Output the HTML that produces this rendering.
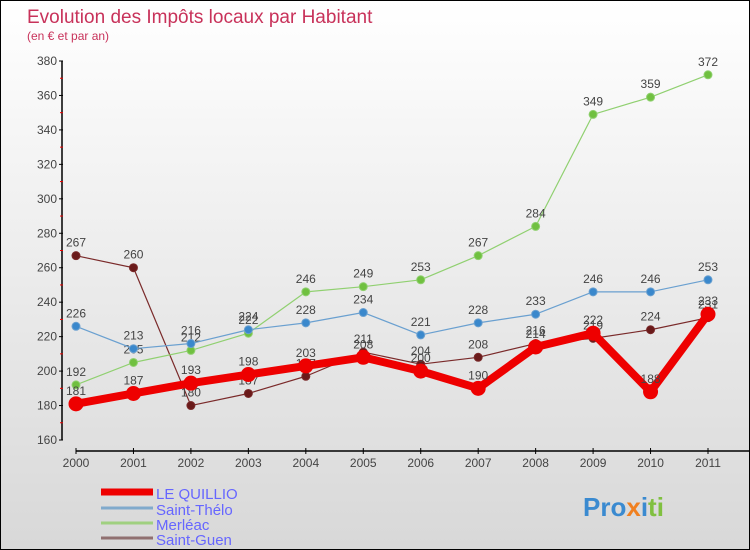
<!DOCTYPE html>
<html><head><meta charset="utf-8"><style>
body{margin:0}
#c{width:750px;height:550px;position:relative;box-sizing:border-box;border:1px solid #000;background:linear-gradient(#fff,#d8d8d8);font-family:"Liberation Sans",sans-serif;overflow:hidden}
</style></head><body>
<div id="c">
<svg id="s" width="748" height="548" style="position:absolute;left:0;top:0">
<text x="26" y="22" font-size="19" fill="#c8325a">Evolution des Impôts locaux par Habitant</text>
<text x="26" y="39" font-size="12" fill="#c8325a">(en € et par an)</text>
<g id="ax"></g><g id="ser"></g>
<g>
<line x1="100" y1="491" x2="152" y2="491" stroke="#e00" stroke-width="7"/>
<text x="155" y="498" font-size="15" fill="#66f">LE QUILLIO</text>
<line x1="100" y1="507" x2="152" y2="507" stroke="#80aacc" stroke-width="3"/>
<text x="155" y="514" font-size="15" fill="#66f">Saint-Thélo</text>
<line x1="100" y1="522" x2="152" y2="522" stroke="#a0d080" stroke-width="3"/>
<text x="155" y="529" font-size="15" fill="#66f">Merléac</text>
<line x1="100" y1="537" x2="152" y2="537" stroke="#907070" stroke-width="3"/>
<text x="155" y="544" font-size="15" fill="#66f">Saint-Guen</text>
</g>
<text x="582" y="515" font-size="26" font-weight="bold"><tspan fill="#3a8ad0">Pro</tspan><tspan fill="#f08020">x</tspan><tspan fill="#3a8ad0">i</tspan><tspan fill="#80c040">ti</tspan></text>
</svg>
</div>
<script>
const years=["2000","2001","2002","2003","2004","2005","2006","2007","2008","2009","2010","2011"];
const yTicks=[160,180,200,220,240,260,280,300,320,340,360,380];
const leQuillio=[181,187,193,198,203,208,200,190,214,222,188,233];
const saintThelo=[226,213,216,224,228,234,221,228,233,246,246,253];
const merleac=[192,205,212,222,246,249,253,267,284,349,359,372];
const saintGuen=[267,260,180,187,197,211,204,208,216,219,224,231];
const NS="http://www.w3.org/2000/svg";
function X(i){return 75+i*(707-75)/11;}
function Y(v){return 439-(v-160)*(439-60)/220;}
function mk(t,a,p){const e=document.createElementNS(NS,t);for(const k in a)e.setAttribute(k,a[k]);p.appendChild(e);return e;}
const ax=document.getElementById('ax');
mk('line',{x1:61,y1:60,x2:61,y2:439,stroke:'#000','stroke-width':1.5},ax);
mk('line',{x1:75,y1:450,x2:748,y2:450,stroke:'#000','stroke-width':1.5},ax);
yTicks.forEach((v,i)=>{
 mk('line',{x1:58,y1:Y(v),x2:62,y2:Y(v),stroke:'#000'},ax);
 if(i<yTicks.length-1)mk('line',{x1:59,y1:Y(v+10),x2:62,y2:Y(v+10),stroke:'#e00'},ax);
 const t=mk('text',{x:56,y:Y(v)+4,'font-size':12,fill:'#444','text-anchor':'end'},ax);
 
 
 t.textContent=v;
});
years.forEach((y,i)=>{
 mk('line',{x1:X(i),y1:447,x2:X(i),y2:453,stroke:'#000'},ax);
 const t=mk('text',{x:X(i),y:466,'font-size':12,fill:'#444','text-anchor':'middle'},ax);
 
 
 t.textContent=y;
});
const ser=document.getElementById('ser');
function draw(data,color,w,r,name,dot){
 const g=mk('g',{},ser);
 
 
 mk('polyline',{points:data.map((v,i)=>X(i)+','+Y(v)).join(' '),fill:'none',stroke:color,'stroke-width':w,'stroke-linejoin':'round'},g);
 data.forEach((v,i)=>{
  const c=mk('circle',{cx:X(i),cy:Y(v),r:r,fill:dot,stroke:color,'stroke-width':1},g);
  
  
  const t=mk('text',{x:X(i),y:Y(v)-9,'font-size':12,fill:'#444','text-anchor':'middle'},g);
  
  
  t.textContent=v;
 });
}
draw(saintGuen,'#7a2a2a',1.2,4,'series-saint-guen','#6a1a1a');
draw(merleac,'#90d070',1.2,4,'series-merleac','#70c040');
draw(saintThelo,'#6aa0d0',1.2,4,'series-saint-thelo','#3a88cc');
draw(leQuillio,'#e00',8,7,'series-le-quillio','#e00');
</script>
</body></html>
